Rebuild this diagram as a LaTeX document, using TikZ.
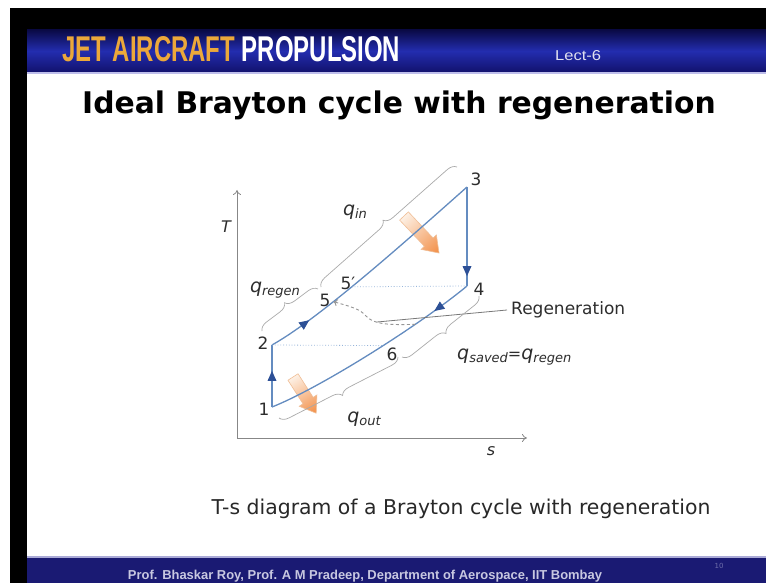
\documentclass[tikz,border=0pt]{standalone}
\usepackage{fontspec}
\setmainfont{DejaVu Sans}
\newfontfamily\hdrfont{Liberation Sans}
\usetikzlibrary{decorations.pathreplacing,decorations.markings,arrows.meta}
\definecolor{cyc}{RGB}{100,140,192}
\definecolor{cycarr}{RGB}{45,80,150}
\definecolor{dotc}{RGB}{150,180,218}
\definecolor{brc}{RGB}{170,170,170}
\definecolor{axc}{RGB}{135,135,135}
\definecolor{ptrc}{RGB}{120,120,120}
\definecolor{dashc}{RGB}{150,150,150}
\definecolor{lblc}{RGB}{45,45,45}
\definecolor{orA}{RGB}{253,240,228}
\definecolor{orB}{RGB}{242,142,70}
\definecolor{orE}{RGB}{240,190,150}
\definecolor{gold}{RGB}{236,168,58}
\definecolor{hdrtop}{RGB}{10,10,70}
\definecolor{hdrmid}{RGB}{35,45,175}
\definecolor{hdrbot}{RGB}{18,18,110}
\definecolor{hdrline}{RGB}{190,190,235}
\definecolor{ftr}{RGB}{26,26,115}
\definecolor{ftrline}{RGB}{170,170,215}
\definecolor{footc}{RGB}{200,200,225}
\definecolor{lectc}{RGB}{225,225,240}
\definecolor{pgc}{RGB}{110,110,170}
\definecolor{capc}{RGB}{40,40,40}
\newcommand{\qq}[1]{{\fontsize{19}{21}\selectfont\itshape q}\raisebox{-3pt}{\fontsize{13}{14}\selectfont\itshape #1}}
\begin{document}
\begin{tikzpicture}[x=1pt,y=-1pt,
  cycline/.style={draw=cyc, line width=1.3pt},
  midarrow/.style={postaction={decorate}, decoration={markings, mark=at position #1 with {\fill[cycarr] (2,0) -- (-8,-4.5) -- (-8,4.5) -- cycle;}}},
  axisline/.style={draw=axc, line width=0.8pt, -{To[length=5pt,width=8pt]}},
  dotline/.style={draw=dotc, line width=0.8pt, dotted},
  bracestyle/.style={draw=brc, line width=0.7pt, decorate, decoration={brace, amplitude=9pt}},
  ptrline/.style={draw=ptrc, line width=0.8pt},
  dashline/.style={draw=dashc, line width=0.9pt, dash pattern=on 3pt off 2.5pt, -{To[length=4pt,width=7pt]}},
  lbl/.style={inner sep=0pt, text=lblc, font=\fontsize{17}{19}\selectfont},
  qlbl/.style={inner sep=0pt, text=lblc},
  bigarrow/.style={left color=orA, right color=orB, draw=orE, line width=0.6pt}
]
\useasboundingbox (0,0) rectangle (766,583);
% background frame
\fill[white] (0,0) rectangle (766,583);
\fill[black] (10,8) rectangle (766,30);
\fill[black] (10,8) rectangle (27,583);
\shade[top color=hdrtop, bottom color=hdrbot, middle color=hdrmid] (27,30) rectangle (766,72);
\fill[hdrline] (27,72) rectangle (766,74);
\fill[white] (27,74) rectangle (766,556);
\fill[ftrline] (27,556) rectangle (766,558);
\fill[ftr] (27,558) rectangle (766,583);
% header texts
\node[anchor=base west, inner sep=0pt] (hdr) at (62,62) {\resizebox{338pt}{25pt}{\hdrfont\bfseries\textcolor{gold}{JET AIRCRAFT} \textcolor{white}{PROPULSION}}};
\node[anchor=base west, inner sep=0pt] (lect) at (555,61) {\resizebox{46pt}{10pt}{\hdrfont\textcolor{lectc}{Lect-6}}};
\node[anchor=base, inner sep=0pt, font=\fontsize{29.8}{34}\selectfont\bfseries, text=black] (title) at (399,114) {Ideal Brayton cycle with regeneration};
\node[anchor=base, inner sep=0pt, font=\fontsize{20.4}{24}\selectfont, text=capc] (caption) at (461,514) {T-s diagram of a Brayton cycle with regeneration};
\node[anchor=base, inner sep=0pt] (foot) at (365,579.5) {\resizebox{474pt}{!}{\hdrfont\bfseries\textcolor{footc}{Prof. Bhaskar Roy, Prof. A M Pradeep, Department of Aerospace, IIT Bombay}}};
\node[inner sep=0pt, font=\fontsize{7}{8}\selectfont, text=pgc] (pg) at (719,566) {10};
% axes
\coordinate (O) at (237,438);
\coordinate (yend) at (237,190);
\coordinate (xend) at (527,438);
\draw[axisline] (O) -- (yend);
\draw[axisline] (O) -- (xend);
\node[lbl, font=\fontsize{16}{18}\selectfont\itshape] (lT) at (226,227) {T};
\node[lbl, font=\fontsize{16}{18}\selectfont\itshape] (ls) at (491,451) {s};
% cycle points
\coordinate (p1) at (272,407);
\coordinate (p2) at (272,345);
\coordinate (p3) at (467,187);
\coordinate (p4) at (467,286);
% big orange arrows
\begin{scope}[transform canvas={shift={(404,216)}, rotate=-46.6}]
\shade[bigarrow] (0,-6) -- (36,-6) -- (36,-10.5) -- (51,0) -- (36,10.5) -- (36,6) -- (0,6) -- cycle;
\end{scope}
\begin{scope}[transform canvas={shift={(293,377)}, rotate=-57.4}]
\shade[bigarrow] (0,-6) -- (28,-6) -- (28,-10.5) -- (43,0) -- (28,10.5) -- (28,6) -- (0,6) -- cycle;
\end{scope}
% cycle lines
\draw[cycline, midarrow=0.55] (p1) -- (p2);
\draw[cycline, midarrow=0.17] (p2) .. controls (320,318) and (405,242) .. (p3)
  coordinate[pos=0.35] (p5) coordinate[pos=0.44] (p5p);
\draw[cycline, midarrow=0.88] (p3) -- (p4);
\draw[cycline, midarrow=0.17] (p4) .. controls (420,325) and (320,388) .. (p1)
  coordinate[pos=0.44] (p6) coordinate[pos=0.29] (r1);
% dotted lines
\draw[dotline] (p5p) -- (p4);
\draw[dotline] (p2) -- (p6);
% regeneration arrow and pointer
\coordinate (rptr) at (377,322);
\coordinate (rmid) at (366,316);
\draw[dashline] (r1) .. controls (392,325) and (374,325) .. (rmid)
  .. controls (360,309) and (352,307) .. (p5);
\node[lbl, anchor=west, inner sep=4pt] (regen) at (507,310) {Regeneration};
\draw[ptrline] (regen.west) -- (rptr);
% braces
\coordinate (brA1) at (262,331);
\coordinate (brA2) at (318,289);
\coordinate (brB1) at (321,287);
\coordinate (brB2) at (457,167);
\coordinate (brC1) at (398,357);
\coordinate (brC2) at (279,418);
\coordinate (brD1) at (479,296);
\coordinate (brD2) at (402,357);
\draw[bracestyle] (brA1) -- (brA2);
\draw[bracestyle] (brB1) -- (brB2);
\draw[bracestyle] (brC1) -- (brC2);
\draw[bracestyle] (brD1) -- (brD2);
% point labels
\node[lbl] (l1) at (264,409) {1};
\node[lbl] (l2) at (263,343) {2};
\node[lbl] (l3) at (476,179) {3};
\node[lbl] (l4) at (479,289) {4};
\node[lbl] (l5) at (325,300) {5};
\node[lbl] (l5p) at (348,283) {5′};
\node[lbl] (l6) at (392,354) {6};
% heat labels
\node[qlbl] (lqin) at (355,212) {\qq{in}};
\node[qlbl] (lqregen) at (275,290) {\qq{regen}};
\node[qlbl] (lqout) at (364,419) {\qq{out}};
\node[qlbl, anchor=west] (lqsaved) at (457,357) {\qq{saved}{\fontsize{16}{18}\selectfont=}\qq{regen}};
\end{tikzpicture}
\end{document}
